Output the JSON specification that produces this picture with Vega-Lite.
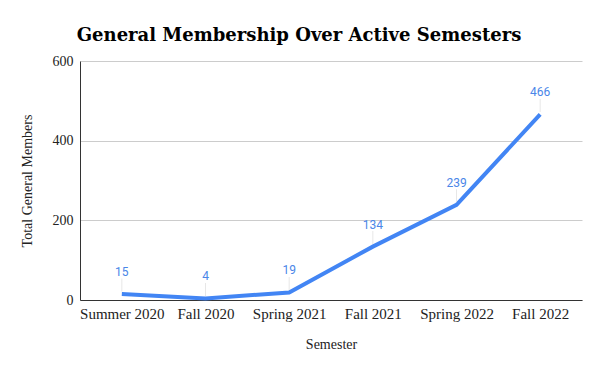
{
  "$schema": "https://vega.github.io/schema/vega-lite/v6.json",
  "width": 502,
  "height": 239,
  "autosize": "none",
  "padding": {"left": 80, "top": 61, "right": 18, "bottom": 71},
  "background": "white",
  "title": {
    "text": "General Membership Over Active Semesters",
    "font": "DejaVu Serif",
    "fontSize": 18,
    "fontWeight": "bold",
    "color": "#000000",
    "anchor": "middle",
    "dx": -32,
    "offset": 9
  },
  "data": {
    "values": [
      {"semester": "Summer 2020", "members": 15},
      {"semester": "Fall 2020", "members": 4},
      {"semester": "Spring 2021", "members": 19},
      {"semester": "Fall 2021", "members": 134},
      {"semester": "Spring 2022", "members": 239},
      {"semester": "Fall 2022", "members": 466}
    ]
  },
  "encoding": {
    "x": {
      "field": "semester",
      "type": "ordinal",
      "sort": null,
      "scale": {"type": "point", "padding": 0.5},
      "axis": {
        "title": "Semester",
        "labelAngle": 0,
        "labelFont": "Liberation Serif",
        "labelFontSize": 15,
        "labelColor": "#222222",
        "labelPadding": 6,
        "titleFont": "Liberation Serif",
        "titleFontSize": 14,
        "titleFontWeight": "normal",
        "titleColor": "#222222",
        "titlePadding": 16,
        "domainColor": "#333333",
        "domainWidth": 1,
        "ticks": false,
        "grid": false
      }
    },
    "y": {
      "field": "members",
      "type": "quantitative",
      "scale": {"domain": [0, 600], "nice": false},
      "axis": {
        "title": "Total General Members",
        "values": [0, 200, 400, 600],
        "labelFont": "Liberation Serif",
        "labelFontSize": 14,
        "labelColor": "#222222",
        "labelPadding": 7,
        "titleFont": "Liberation Serif",
        "titleFontSize": 14,
        "titleFontWeight": "normal",
        "titleColor": "#222222",
        "titlePadding": 18,
        "domain": true,
        "domainColor": "#333333",
        "ticks": false,
        "grid": true,
        "gridColor": "#cccccc"
      }
    }
  },
  "layer": [
    {
      "mark": {"type": "line", "color": "#4285F4", "strokeWidth": 4, "strokeJoin": "miter", "strokeCap": "butt"}
    },
    {
      "mark": {"type": "tick", "orient": "vertical", "color": "#dddddd", "thickness": 1, "size": 13, "yOffset": -9}
    },
    {
      "mark": {"type": "text", "font": "Roboto", "fontSize": 12, "color": "#4a86e8", "dy": -22, "baseline": "middle"},
      "encoding": {"text": {"field": "members", "type": "quantitative"}}
    }
  ],
  "config": {"view": {"stroke": null}}
}
